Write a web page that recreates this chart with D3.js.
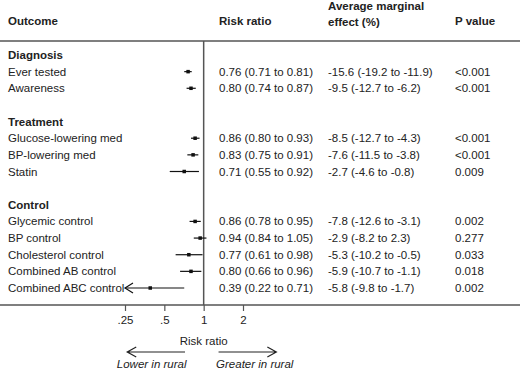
<!DOCTYPE html>
<html>
<head>
<meta charset="utf-8">
<style>
  body { margin: 0; background: #fff; }
  svg text { font-family: "Liberation Sans", Arial, sans-serif; font-size: 11.5px; fill: #222; }
</style>
</head>
<body>
<svg width="520" height="371"></svg>
<script src="https://cdn.jsdelivr.net/npm/d3@7"></script>
<script>

var groups = ["Diagnosis", "Treatment", "Control"];
var outcomes = ["Ever tested", "Awareness",
  "Glucose-lowering med", "BP-lowering med", "Statin",
  "Glycemic control", "BP control", "Cholesterol control", "Combined AB control", "Combined ABC control"];
var groupOf = [0, 0, 1, 1, 1, 2, 2, 2, 2, 2];
var rr = [0.76, 0.80, 0.86, 0.83, 0.71, 0.86, 0.94, 0.77, 0.80, 0.39];
var rrLo = [0.71, 0.74, 0.80, 0.75, 0.55, 0.78, 0.84, 0.61, 0.66, 0.22];
var rrHi = [0.81, 0.87, 0.93, 0.91, 0.92, 0.95, 1.05, 0.98, 0.96, 0.71];
var ame = [-15.6, -9.5, -8.5, -7.6, -2.7, -7.8, -2.9, -5.3, -5.9, -5.8];
var ameLo = [-19.2, -12.7, -12.7, -11.5, -4.6, -12.6, -8.2, -10.2, -10.7, -9.8];
var ameHi = [-11.9, -6.2, -4.3, -3.8, -0.8, -3.1, 2.3, -0.5, -1.1, -1.7];
var pval = ["<0.001", "<0.001", "<0.001", "<0.001", "0.009", "0.002", "0.277", "0.033", "0.018", "0.002"];
var ticks = [0.25, 0.5, 1, 2];
var tickLabels = [".25", ".5", "1", "2"];

var svg = d3.select("svg"),
    W = +svg.attr("width");

// build row list: group header, items, blank spacer
var rows = [];
groups.forEach(function(g, gi) {
  if (gi > 0) rows.push({type: "blank"});
  rows.push({type: "head", label: g});
  outcomes.forEach(function(o, i) {
    if (groupOf[i] === gi) rows.push({type: "item", i: i});
  });
});

var y = d3.scalePoint()
    .domain(d3.range(rows.length))
    .range([55, 288]);

var x = d3.scaleLog().base(2)
    .domain([0.25, 2])
    .range([125, 243]);

var topY = 41, botY = 305;
var col = {outcome: 8, rr: 219, ame: 328, p: 455};
var f2 = function(v) { return v.toFixed(2); },
    f1 = function(v) { return v.toFixed(1); };
var lineCol = "#555";

// headers
var head = svg.append("g").style("font-weight", "bold");
head.append("text").attr("x", col.outcome).attr("y", 25).text("Outcome");
head.append("text").attr("x", col.rr).attr("y", 25).text("Risk ratio");
head.append("text").attr("x", col.ame).attr("y", 10).text("Average marginal");
head.append("text").attr("x", col.ame).attr("y", 26).text("effect (%)");
head.append("text").attr("x", col.p).attr("y", 25).text("P value");

svg.append("line").attr("x1", 0).attr("x2", W).attr("y1", topY).attr("y2", topY)
    .attr("stroke", lineCol).attr("stroke-width", 1.5);

// reference line at 1
svg.append("line").attr("x1", x(1)).attr("x2", x(1)).attr("y1", topY).attr("y2", botY)
    .attr("stroke", lineCol).attr("stroke-width", 1.5);

// rows
var rowG = svg.selectAll("g.row").data(rows).enter().append("g")
    .attr("class", "row")
    .attr("transform", function(d, k) { return "translate(0," + y(k) + ")"; });

rowG.filter(function(d) { return d.type === "head"; })
  .append("text")
    .attr("x", col.outcome).attr("dy", "0.35em")
    .style("font-weight", "bold")
    .text(function(d) { return d.label; });

var items = rowG.filter(function(d) { return d.type === "item"; });

items.append("text").attr("x", col.outcome).attr("dy", "0.35em")
    .text(function(d) { return outcomes[d.i]; });
items.append("text").attr("x", col.rr).attr("dy", "0.35em")
    .text(function(d) { return f2(rr[d.i]) + " (" + f2(rrLo[d.i]) + " to " + f2(rrHi[d.i]) + ")"; });
items.append("text").attr("x", col.ame).attr("dy", "0.35em")
    .text(function(d) { return f1(ame[d.i]) + " (" + f1(ameLo[d.i]) + " to " + f1(ameHi[d.i]) + ")"; });
items.append("text").attr("x", col.p).attr("dy", "0.35em")
    .text(function(d) { return pval[d.i]; });

// CI lines (clipped at axis minimum with arrow)
var xMin = x.domain()[0];
items.append("line")
    .attr("x1", function(d) { return x(Math.max(rrLo[d.i], xMin)); })
    .attr("x2", function(d) { return x(rrHi[d.i]); })
    .attr("stroke", "#111").attr("stroke-width", 1.2);

items.filter(function(d) { return rrLo[d.i] < xMin; })
  .append("path")
    .attr("d", function() { var x0 = x(xMin); return "M" + (x0 + 8) + ",-5L" + x0 + ",0L" + (x0 + 8) + ",5"; })
    .attr("fill", "none").attr("stroke", "#111").attr("stroke-width", 1.2);

items.append("rect")
    .attr("x", function(d) { return x(rr[d.i]) - 1.75; })
    .attr("y", -1.75).attr("width", 3.5).attr("height", 3.5)
    .attr("fill", "#111");

// bottom axis
svg.append("line").attr("x1", 0).attr("x2", W).attr("y1", botY).attr("y2", botY)
    .attr("stroke", lineCol).attr("stroke-width", 1.5);

var axis = svg.append("g").attr("transform", "translate(0," + botY + ")")
    .call(d3.axisBottom(x).tickValues(ticks).tickSize(6).tickPadding(5)
      .tickFormat(function(d, i) { return tickLabels[i]; }));
axis.select(".domain").remove();
axis.selectAll(".tick line").attr("stroke", lineCol).attr("stroke-width", 1.2);
axis.selectAll(".tick text").style("font-family", "Liberation Sans, Arial, sans-serif")
    .style("font-size", "11.5px").attr("fill", "#222");

svg.append("text").attr("x", x(1)).attr("y", 345).attr("text-anchor", "middle").text("Risk ratio");

// direction arrows
var arrY = 352;
function arrow(from, to) {
  var a = x(from), b = x(to), s = b < a ? 9 : -9;
  svg.append("path")
      .attr("d", "M" + a + "," + arrY + "H" + b +
                 "M" + (b + s) + "," + (arrY - 5) + "L" + b + "," + arrY + "L" + (b + s) + "," + (arrY + 5))
      .attr("fill", "none").attr("stroke", "#222").attr("stroke-width", 1.2);
}
arrow(0.72, 0.26);
arrow(1.3, 3.6);

svg.append("text").attr("x", x(0.4)).attr("y", 368).attr("text-anchor", "middle")
    .style("font-style", "italic").text("Lower in rural");
svg.append("text").attr("x", x(2.46)).attr("y", 368).attr("text-anchor", "middle")
    .style("font-style", "italic").text("Greater in rural");

</script>
</body>
</html>
